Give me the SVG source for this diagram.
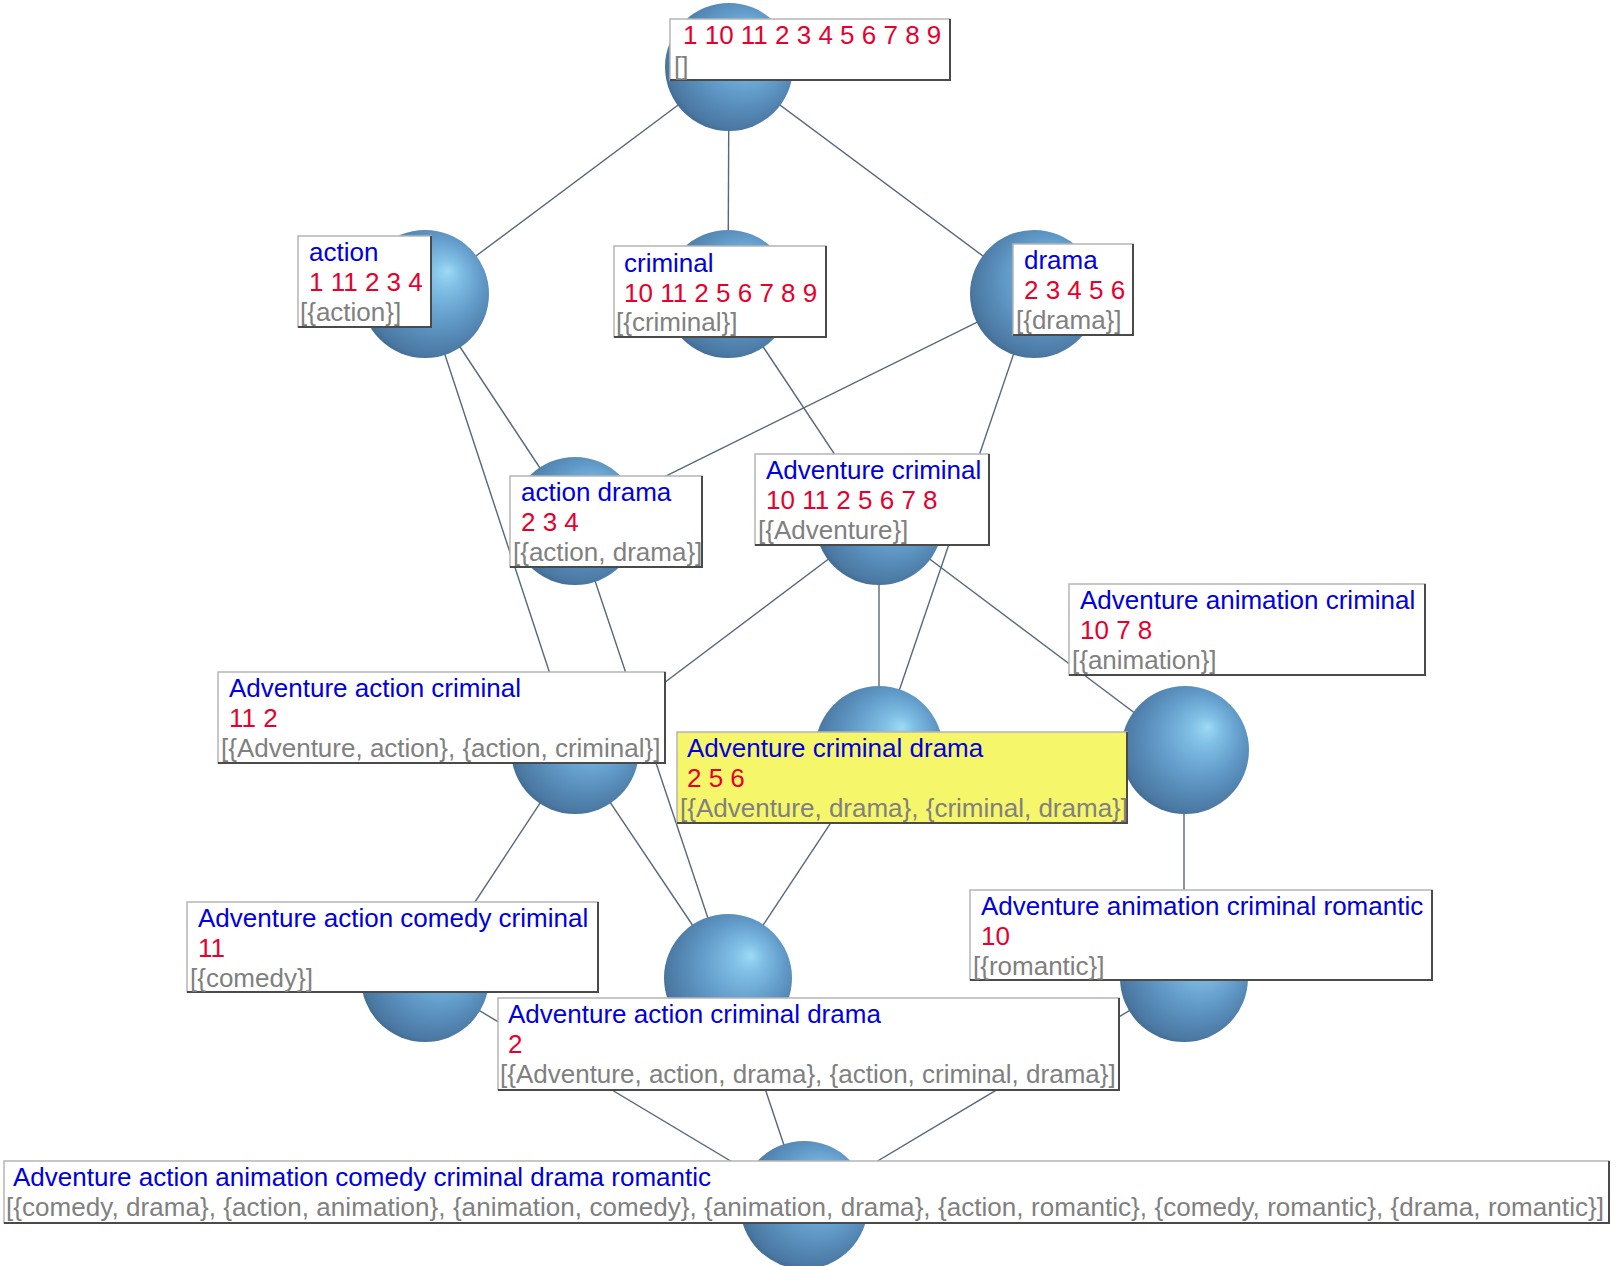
<svg xmlns="http://www.w3.org/2000/svg" width="1617" height="1266" viewBox="0 0 1617 1266">
<style>
.edge{stroke:#56687a;stroke-width:1.4;fill:none}
.ball{fill:url(#sph)}
.box{fill:#ffffff;stroke:#b5b5b5;stroke-width:1.5}
.hl{fill:#f6f66a}
.sh{fill:none;stroke:#4a4a4a;stroke-width:2}
text{font-family:"Liberation Sans",Arial,sans-serif;font-size:26px}
.n{fill:#0000e0}
.o{fill:#e6002e}
.a{fill:#808080}
</style>
<defs>
<radialGradient id="sph" cx="0.55" cy="0.45" r="0.65" fx="0.68" fy="0.32">
<stop offset="0" stop-color="#9edaf4"/>
<stop offset="0.18" stop-color="#80bfe6"/>
<stop offset="0.5" stop-color="#629bc9"/>
<stop offset="0.85" stop-color="#4a78a2"/>
<stop offset="1" stop-color="#36587a"/>
</radialGradient>
</defs>
<rect width="1617" height="1266" fill="#ffffff"/>
<g id="edges">
<line class="edge" x1="729" y1="67" x2="425" y2="294"/>
<line class="edge" x1="729" y1="67" x2="728" y2="294"/>
<line class="edge" x1="729" y1="67" x2="1034" y2="294"/>
<line class="edge" x1="425" y1="294" x2="575" y2="521"/>
<line class="edge" x1="425" y1="294" x2="575" y2="750"/>
<line class="edge" x1="728" y1="294" x2="879" y2="521"/>
<line class="edge" x1="1034" y1="294" x2="575" y2="521"/>
<line class="edge" x1="1034" y1="294" x2="879" y2="750"/>
<line class="edge" x1="575" y1="521" x2="728" y2="978"/>
<line class="edge" x1="879" y1="521" x2="575" y2="750"/>
<line class="edge" x1="879" y1="521" x2="879" y2="750"/>
<line class="edge" x1="879" y1="521" x2="1184" y2="750"/>
<line class="edge" x1="575" y1="750" x2="425" y2="978"/>
<line class="edge" x1="575" y1="750" x2="728" y2="978"/>
<line class="edge" x1="879" y1="750" x2="728" y2="978"/>
<line class="edge" x1="1184" y1="750" x2="1184" y2="978"/>
<line class="edge" x1="425" y1="978" x2="804" y2="1205"/>
<line class="edge" x1="728" y1="978" x2="804" y2="1205"/>
<line class="edge" x1="1184" y1="978" x2="804" y2="1205"/>
</g>
<g id="n-top">
<circle class="ball" cx="729" cy="67" r="64"/>
<rect class="box" x="670" y="19" width="280" height="61"/>
<polyline class="sh" points="950,19 950,80 670,80"/>
<text class="o" x="683" y="44">1 10 11 2 3 4 5 6 7 8 9</text>
<text class="a" x="674" y="75">[]</text>
</g>
<g id="n-action">
<circle class="ball" cx="425" cy="294" r="64"/>
<rect class="box" x="298" y="236" width="133" height="91"/>
<polyline class="sh" points="431,236 431,327 298,327"/>
<text class="n" x="309" y="261">action</text>
<text class="o" x="309" y="291">1 11 2 3 4</text>
<text class="a" x="300" y="321">[{action}]</text>
</g>
<g id="n-criminal">
<circle class="ball" cx="728" cy="294" r="64"/>
<rect class="box" x="614" y="246" width="212" height="91"/>
<polyline class="sh" points="826,246 826,337 614,337"/>
<text class="n" x="624" y="272">criminal</text>
<text class="o" x="624" y="302">10 11 2 5 6 7 8 9</text>
<text class="a" x="616" y="331">[{criminal}]</text>
</g>
<g id="n-drama">
<circle class="ball" cx="1034" cy="294" r="64"/>
<rect class="box" x="1013" y="244" width="120" height="91"/>
<polyline class="sh" points="1133,244 1133,335 1013,335"/>
<text class="n" x="1024" y="269">drama</text>
<text class="o" x="1024" y="299">2 3 4 5 6</text>
<text class="a" x="1016" y="329">[{drama}]</text>
</g>
<g id="n-action-drama">
<circle class="ball" cx="575" cy="521" r="64"/>
<rect class="box" x="510" y="476" width="192" height="91"/>
<polyline class="sh" points="702,476 702,567 510,567"/>
<text class="n" x="521" y="501">action drama</text>
<text class="o" x="521" y="531">2 3 4</text>
<text class="a" x="513" y="561">[{action, drama}]</text>
</g>
<g id="n-adventure-criminal">
<circle class="ball" cx="879" cy="521" r="64"/>
<rect class="box" x="755" y="454" width="234" height="91"/>
<polyline class="sh" points="989,454 989,545 755,545"/>
<text class="n" x="766" y="479">Adventure criminal</text>
<text class="o" x="766" y="509">10 11 2 5 6 7 8</text>
<text class="a" x="758" y="539">[{Adventure}]</text>
</g>
<g id="n-adventure-animation-criminal">
<circle class="ball" cx="1185" cy="750" r="64"/>
<rect class="box" x="1069" y="584" width="356" height="91"/>
<polyline class="sh" points="1425,584 1425,675 1069,675"/>
<text class="n" x="1080" y="609">Adventure animation criminal</text>
<text class="o" x="1080" y="639">10 7 8</text>
<text class="a" x="1072" y="669">[{animation}]</text>
</g>
<g id="n-adventure-animation-criminal-romantic">
<circle class="ball" cx="1184" cy="978" r="64"/>
<rect class="box" x="970" y="890" width="462" height="90"/>
<polyline class="sh" points="1432,890 1432,980 970,980"/>
<text class="n" x="981" y="915">Adventure animation criminal romantic</text>
<text class="o" x="981" y="945">10</text>
<text class="a" x="973" y="975">[{romantic}]</text>
</g>
<g id="n-adventure-action-criminal">
<circle class="ball" cx="575" cy="750" r="64"/>
<rect class="box" x="218" y="672" width="447" height="91"/>
<polyline class="sh" points="665,672 665,763 218,763"/>
<text class="n" x="229" y="697">Adventure action criminal</text>
<text class="o" x="229" y="727">11 2</text>
<text class="a" x="221" y="757">[{Adventure, action}, {action, criminal}]</text>
</g>
<g id="n-adventure-criminal-drama">
<circle class="ball" cx="879" cy="750" r="64"/>
<rect class="box hl" x="677" y="732" width="450" height="91"/>
<polyline class="sh" points="1127,732 1127,823 677,823"/>
<text class="n" x="687" y="757">Adventure criminal drama</text>
<text class="o" x="687" y="787">2 5 6</text>
<text class="a" x="680" y="817">[{Adventure, drama}, {criminal, drama}]</text>
</g>
<g id="n-adventure-action-comedy-criminal">
<circle class="ball" cx="425" cy="978" r="64"/>
<rect class="box" x="187" y="902" width="411" height="90"/>
<polyline class="sh" points="598,902 598,992 187,992"/>
<text class="n" x="198" y="927">Adventure action comedy criminal</text>
<text class="o" x="198" y="957">11</text>
<text class="a" x="190" y="987">[{comedy}]</text>
</g>
<g id="n-adventure-action-criminal-drama">
<circle class="ball" cx="728" cy="978" r="64"/>
<rect class="box" x="498" y="998" width="621" height="92"/>
<polyline class="sh" points="1119,998 1119,1090 498,1090"/>
<text class="n" x="508" y="1023">Adventure action criminal drama</text>
<text class="o" x="508" y="1053">2</text>
<text class="a" x="500" y="1083">[{Adventure, action, drama}, {action, criminal, drama}]</text>
</g>
<g id="n-bottom">
<circle class="ball" cx="804" cy="1205" r="64"/>
<rect class="box" x="4" y="1161" width="1605" height="62"/>
<polyline class="sh" points="1609,1161 1609,1223 4,1223"/>
<text class="n" x="13" y="1186">Adventure action animation comedy criminal drama romantic</text>
<text class="a" x="6" y="1216" textLength="1598" lengthAdjust="spacing">[{comedy, drama}, {action, animation}, {animation, comedy}, {animation, drama}, {action, romantic}, {comedy, romantic}, {drama, romantic}]</text>
</g>
</svg>
